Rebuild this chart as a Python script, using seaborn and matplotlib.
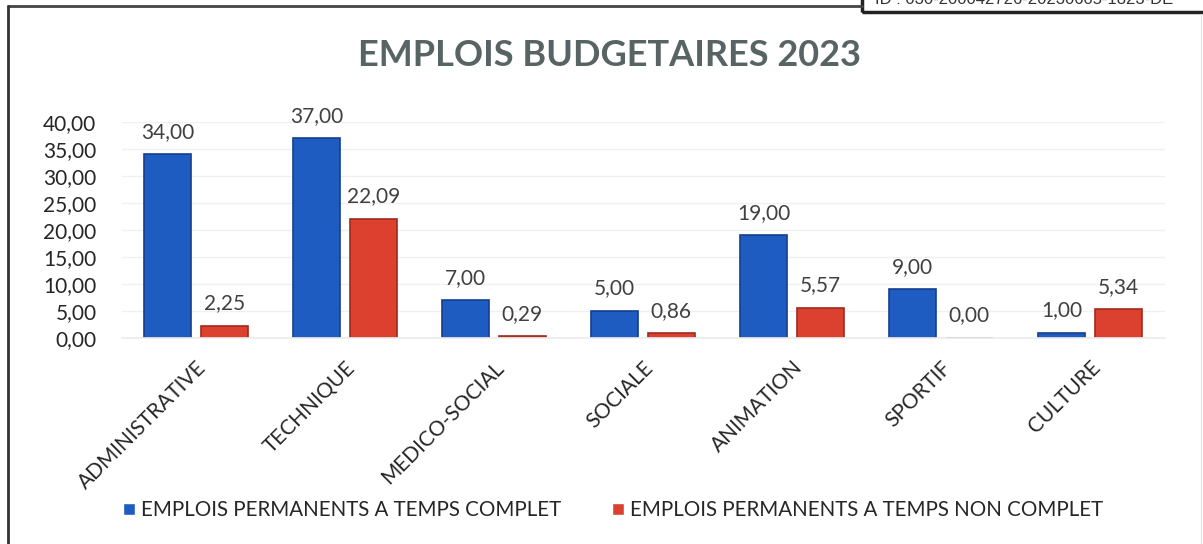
import matplotlib
matplotlib.use("Agg")
import matplotlib.pyplot as plt
from matplotlib.lines import Line2D
from matplotlib.patches import Rectangle
import seaborn as sns
import pandas as pd

# Data
categories = ["ADMINISTRATIVE", "TECHNIQUE", "MEDICO-SOCIAL", "SOCIALE",
              "ANIMATION", "SPORTIF", "CULTURE"]
temps_complet = [34.00, 37.00, 7.00, 5.00, 19.00, 9.00, 1.00]
temps_non_complet = [2.25, 22.09, 0.29, 0.86, 5.57, 0.00, 5.34]
series_names = ["EMPLOIS PERMANENTS A TEMPS COMPLET",
                "EMPLOIS PERMANENTS A TEMPS NON COMPLET"]
y_ticks = [0, 5, 10, 15, 20, 25, 30, 35, 40]
title = "EMPLOIS BUDGETAIRES 2023"
doc_id = "ID : 030-200042726-20230605-1823-DE"

df = pd.DataFrame({
    "categorie": categories * 2,
    "emplois": temps_complet + temps_non_complet,
    "serie": [series_names[0]] * len(categories) + [series_names[1]] * len(categories),
})

sns.set_theme(style="white")
plt.rcParams["font.family"] = ["Lato", "DejaVu Sans"]

W, H = 1203, 544
fig = plt.figure(figsize=(W / 100, H / 100), dpi=100)
ax = fig.add_axes([121.5 / W, 1 - 338 / H, (1164.5 - 121.5) / W, 216 / H])

palette = {series_names[0]: "#1f5cc2", series_names[1]: "#dc412f"}
edges = {series_names[0]: "#163f8c", series_names[1]: "#9e2b1d"}

sns.barplot(data=df, x="categorie", y="emplois", hue="serie", order=categories,
            hue_order=series_names, palette=palette, saturation=1, width=0.76,
            gap=0.18, errorbar=None, ax=ax, legend=True)

for cont, name in zip(ax.containers, series_names):
    for bar in cont:
        bar.set_edgecolor(edges[name])
        bar.set_linewidth(1.2)
    ax.bar_label(cont, fmt=lambda v: f"{v:.2f}".replace(".", ","),
                 padding=9, fontsize=15, color="#404040")

ax.set_ylim(0, 40)
ax.set_yticks(y_ticks)
ax.set_yticklabels([f"{v:.2f}".replace(".", ",") for v in y_ticks],
                   fontsize=15, color="#262626")
ax.yaxis.grid(True, color="#f0f0f0", linewidth=1)
ax.set_axisbelow(True)
ax.tick_params(axis="y", length=0, pad=18)
ax.tick_params(axis="x", length=0, pad=14)
ax.set_xlabel("")
ax.set_ylabel("")
for lbl in ax.get_xticklabels():
    lbl.set_rotation(45)
    lbl.set_ha("right")
    lbl.set_va("top")
    lbl.set_rotation_mode("anchor")
    lbl.set_fontsize(15)
    lbl.set_color("#262626")
for s in ["top", "right", "left"]:
    ax.spines[s].set_visible(False)
ax.spines["bottom"].set_color("#ececec")

handles, labels = ax.get_legend_handles_labels()
ax.get_legend().remove()
fig.legend(handles, labels, loc="center", bbox_to_anchor=(613 / W, 1 - 510 / H),
           ncol=2, frameon=False, fontsize=14.8, handlelength=0.55, handleheight=0.55,
           handletextpad=0.3, columnspacing=2.5, labelcolor="#262626")

fig.text(609 / W, 1 - 55 / H, title, ha="center", va="center",
         fontsize=26, fontweight="bold", color="#586464")

# Page frame around the chart
fig.add_artist(Line2D([8 / W, 862 / W], [1 - 6 / H, 1 - 6 / H], color="#444444", lw=2))
fig.add_artist(Line2D([8 / W, 8 / W], [1 - 6 / H, 0], color="#333333", lw=2))
fig.add_artist(Line2D([1201 / W, 1201 / W], [1 - 14 / H, 0], color="#e6e6e6", lw=1))
fig.add_artist(Rectangle((862 / W, 1 - 12 / H), 360 / W, 30 / H, fill=False,
                         edgecolor="#222222", lw=2.5, transform=fig.transFigure))
fig.text(875 / W, 1 - 4 / H, doc_id, ha="left", va="baseline",
         fontsize=12, color="#333333", family=["Liberation Sans", "DejaVu Sans"])

fig.savefig("out.png", dpi=100)
